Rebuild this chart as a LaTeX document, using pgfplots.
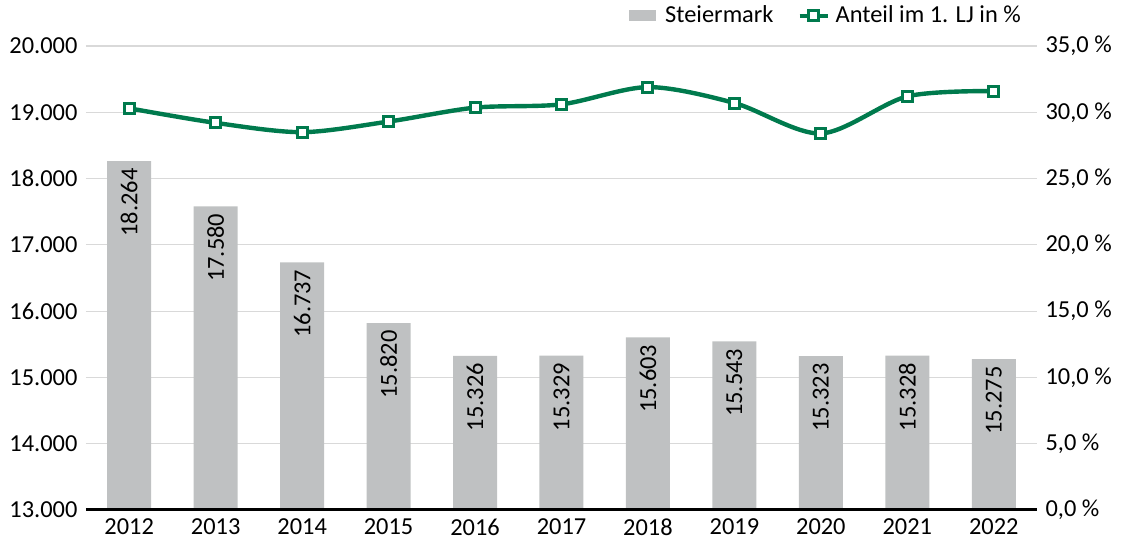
\documentclass[border=0pt]{standalone}
\usepackage{pgfplots}
\pgfplotsset{compat=1.18}
\usepackage{fontspec}
\setmainfont{Carlito}
\definecolor{barcol}{RGB}{191,193,194}
\definecolor{grn}{RGB}{0,122,77}
\definecolor{gridc}{RGB}{217,217,217}
\pgfplotsset{/pgf/number format/assume math mode=true}
\newcommand{\fs}{\fontsize{12.2}{14}\selectfont}
\begin{document}
\fs
\begin{tikzpicture}
\path[use as bounding box] (-43pt,-16pt) rectangle (520pt,255pt);
\begin{axis}[
  at={(0,0)}, anchor=south west, scale only axis,
  width=475.5pt, height=232pt,
  xmin=-0.5, xmax=10.5, ymin=13000, ymax=20000,
  ytick={13000,14000,15000,16000,17000,18000,19000,20000},
  scaled y ticks=false,
  yticklabel style={/pgf/number format/.cd, fixed, 1000 sep={.}},
  xtick={0,1,2,3,4,5,6,7,8,9,10},
  xticklabels={2012,2013,2014,2015,2016,2017,2018,2019,2020,2021,2022},
  ymajorgrids, grid style={gridc, line width=0.6pt},
  axis line style={draw=none},
  major tick length=0pt,
  tick label style={font=\fs},
  ybar, bar width=22pt,
  nodes near coords={\pgfmathprintnumber[fixed,1000 sep={.}]{\pgfplotspointmeta}},
  nodes near coords style={rotate=90, anchor=east, font=\fs, inner sep=3.5pt, black},
]
\addplot[fill=barcol, draw=none] coordinates {
(0,18264) (1,17580) (2,16737) (3,15820) (4,15326) (5,15329)
(6,15603) (7,15543) (8,15323) (9,15328) (10,15275)};
\draw[black, line width=2pt] (rel axis cs:0,0) -- (rel axis cs:1,0);
\end{axis}
\begin{axis}[
  at={(0,0)}, anchor=south west, scale only axis,
  width=475.5pt, height=232pt,
  xmin=-0.5, xmax=10.5, ymin=0, ymax=35,
  ytick={0,5,10,15,20,25,30,35},
  yticklabel pos=right,
  yticklabel={\pgfmathprintnumber[fixed,fixed zerofill,precision=1,use comma]{\tick}~\%},
  xtick=\empty,
  axis line style={draw=none},
  major tick length=0pt,
  tick label style={font=\fs},
  legend style={draw=none, fill=none, font=\fs, at={(0.994,1.065)}, anchor=east,
    legend columns=-1, /tikz/every even column/.append style={column sep=10pt}},
  legend image code/.code={
    \path[draw=none, fill=none] (0pt,0pt) -- (16pt,0pt);
    \draw[#1] (0pt,0pt) -- (14pt,0pt);
    \draw[#1, mark repeat=1] plot coordinates {(7pt,0pt)};
  },
]
\addlegendimage{legend image code/.code={\path[draw=none, fill=none] (0pt,0pt) -- (16pt,0pt); \fill[barcol] (0pt,-2.5pt) rectangle (13pt,2.5pt);}}
\addlegendentry{Steiermark}
\addplot[grn, line width=2.2pt, smooth, tension=0.5, mark=square*,
  mark size=2.5pt, mark options={fill=white, draw=grn, line width=1.5pt}] coordinates {
(0,30.3) (1,29.2) (2,28.5) (3,29.3) (4,30.35) (5,30.6)
(6,31.9) (7,30.7) (8,28.4) (9,31.2) (10,31.6)};
\addlegendentry{Anteil im 1. LJ in \%}
\end{axis}
\end{tikzpicture}
\end{document}
